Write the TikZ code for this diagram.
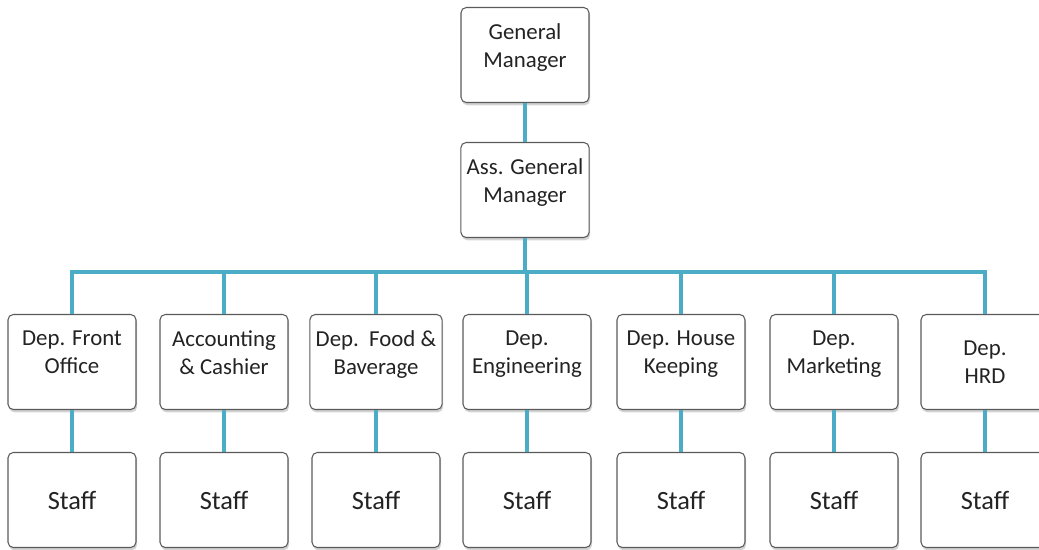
\documentclass[tikz,border=0pt]{standalone}
\usepackage{fontspec}
\setmainfont{Carlito}
\usepackage{xcolor}
\usepackage{tikz}
\usetikzlibrary{shadows}

\definecolor{linkblue}{RGB}{75,172,198}
\definecolor{boxline}{RGB}{90,90,90}
\definecolor{textgray}{RGB}{35,35,35}

\tikzset{
  unit/.style={draw=boxline, line width=0.6pt, rounded corners=3pt, fill=white,
    minimum width=2.56cm, minimum height=1.9cm, align=center, text=textgray,
    font=\fontsize{13}{16}\selectfont,
    drop shadow={shadow xshift=0.6pt, shadow yshift=-1.6pt, opacity=0.35}},
  raised/.style={text depth=11pt},
  staff/.style={unit, font=\fontsize{15}{18}\selectfont},
  link/.style={draw=linkblue, line width=2.8pt}
}

\begin{document}
\begin{tikzpicture}
      \useasboundingbox (0,0) rectangle (20.78,-11);

      \coordinate (gmc) at (10.5,-1.1);
      \coordinate (agmc) at (10.5,-3.8);
      \coordinate (bus) at (10.5,-5.44);

      \node[unit, raised] (gm) at (gmc){General\\Manager};
      \node[unit, raised] (agm) at (agmc){Ass. General\\Manager};

      \node[unit, raised] (fo) at (1.44,-7.24){Dep. Front\\Office};
      \node[unit, raised] (acc) at (4.48,-7.24){Accounting\\\& Cashier};
      \node[unit, raised] (fb) at (7.52,-7.24){Dep.\ \ Food \&\\Baverage};
      \node[unit, raised] (eng) at (10.54,-7.24){Dep.\\Engineering};
      \node[unit, raised] (hk) at (13.62,-7.24){Dep. House\\Keeping};
      \node[unit, raised] (mkt) at (16.68,-7.24){Dep.\\Marketing};
      \node[unit] (hrd) at (19.7,-7.24){Dep.\\HRD};

      \node[staff] (s1) at (1.44,-10.0){Staff};
      \node[staff] (s2) at (4.48,-10.0){Staff};
      \node[staff] (s3) at (7.52,-10.0){Staff};
      \node[staff] (s4) at (10.54,-10.0){Staff};
      \node[staff] (s5) at (13.62,-10.0){Staff};
      \node[staff] (s6) at (16.68,-10.0){Staff};
      \node[staff] (s7) at (19.7,-10.0){Staff};

      \draw[link] (gm) -- (agm);
      \draw[link] (agm.south) -- (bus);

      \draw[link] (fo.north) |- (bus);
      \draw[link] (acc.north) |- (bus);
      \draw[link] (fb.north) |- (bus);
      \draw[link] (eng.north) |- (bus);
      \draw[link] (hk.north) |- (bus);
      \draw[link] (mkt.north) |- (bus);
      \draw[link] (hrd.north) |- (bus);

      \draw[link] (fo) -- (s1);
      \draw[link] (acc) -- (s2);
      \draw[link] (fb) -- (s3);
      \draw[link] (eng) -- (s4);
      \draw[link] (hk) -- (s5);
      \draw[link] (mkt) -- (s6);
      \draw[link] (hrd) -- (s7);
    \end{tikzpicture}
\end{document}
